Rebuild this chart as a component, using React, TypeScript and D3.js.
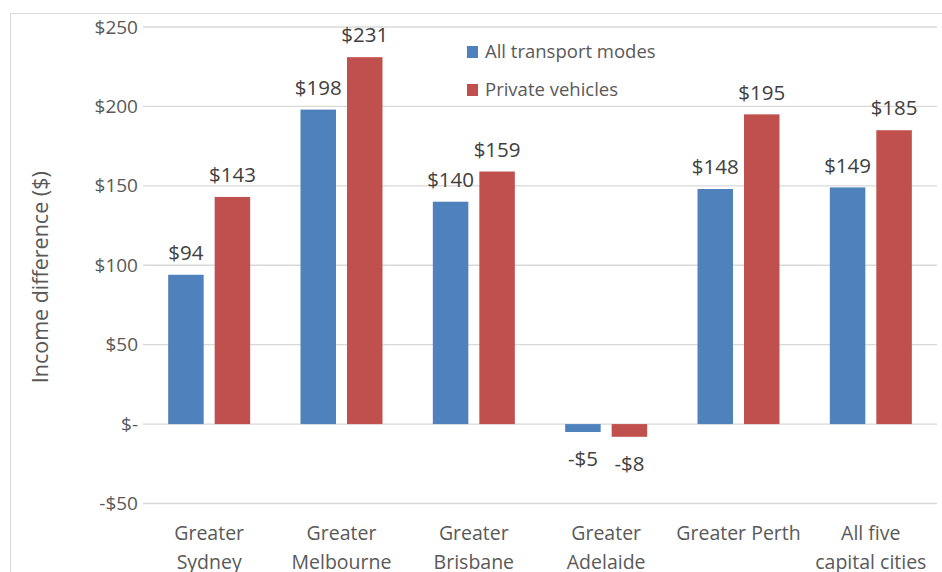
import React from "react";
import * as d3 from "d3";

const categories = [
  ["Greater", "Sydney"],
  ["Greater", "Melbourne"],
  ["Greater", "Brisbane"],
  ["Greater", "Adelaide"],
  ["Greater Perth"],
  ["All five", "capital cities"],
];
const allTransport = [94, 198, 140, -5, 148, 149];
const privateVehicles = [143, 231, 159, -8, 195, 185];
const seriesNames = ["All transport modes", "Private vehicles"];
const seriesColors = ["#4f81bd", "#c0504d"];
const yTicks = [-50, 0, 50, 100, 150, 200, 250];

const W = 942;
const H = 572;
const left = 143;
const right = 937;
const top = 27;
const bottom = 503.5;
const font = "Open Sans, Liberation Sans, sans-serif";

const fmt = (v: number) => (v === 0 ? "$-" : v < 0 ? `-$${Math.abs(v)}` : `$${v}`);

export default function App() {
  const x = d3.scaleBand<number>().domain(d3.range(categories.length)).range([left, right]).padding(0);
  const y = d3.scaleLinear().domain([-50, 250]).range([bottom, top]);
  const series = [allTransport, privateVehicles];
  const barW = 35.5;
  const gap = 11;

  return (
    <svg width={W} height={H} style={{ position: "absolute", left: 0, top: 0 }}>
      <rect x={10.5} y={13.5} width={W + 20} height={H + 20} fill="#fff" stroke="#d9d9d9" strokeWidth={1} />
      {yTicks.map((t) => (
        <g key={t}>
          <line x1={left} x2={right} y1={y(t)} y2={y(t)} stroke="#d9d9d9" strokeWidth={1.3} />
          <text x={138} y={y(t)} dy="0.35em" textAnchor="end" fontSize={19} fill="#595959" fontFamily={font}>
            {fmt(t)}
          </text>
        </g>
      ))}
      <text
        transform={`translate(40,${(top + bottom) / 2 + 12}) rotate(-90)`}
        textAnchor="middle"
        dy="0.35em"
        fontSize={21.5}
        fill="#595959"
        fontFamily={font}
      >
        Income difference ($)
      </text>
      {categories.map((c, i) => {
        const cx = (x(i) as number) + x.bandwidth() / 2;
        return (
          <g key={i}>
            {series.map((s, j) => {
              const v = s[i];
              const bx = j === 0 ? cx - gap / 2 - barW : cx + gap / 2;
              const y0 = y(0);
              const y1 = y(v);
              return (
                <g key={j}>
                  <rect x={bx} y={Math.min(y0, y1)} width={barW} height={Math.abs(y1 - y0)} fill={seriesColors[j]} />
                  <text
                    x={bx + barW / 2}
                    y={v >= 0 ? y1 - 22 : y1 + 27}
                    dy="0.35em"
                    textAnchor="middle"
                    fontSize={20.5}
                    fill="#404040"
                    fontFamily={font}
                  >
                    {fmt(v)}
                  </text>
                </g>
              );
            })}
            {c.map((line, k) => (
              <text
                key={k}
                x={cx}
                y={533 + k * 29}
                dy="0.35em"
                textAnchor="middle"
                fontSize={19.5}
                fill="#595959"
                fontFamily={font}
              >
                {line}
              </text>
            ))}
          </g>
        );
      })}
      {seriesNames.map((n, j) => (
        <g key={n} transform={`translate(467,${46 + j * 38})`}>
          <rect x={0} y={0} width={11} height={12} fill={seriesColors[j]} />
          <text x={18} y={6} dy="0.35em" fontSize={18.5} fill="#595959" fontFamily={font}>
            {n}
          </text>
        </g>
      ))}
    </svg>
  );
}
